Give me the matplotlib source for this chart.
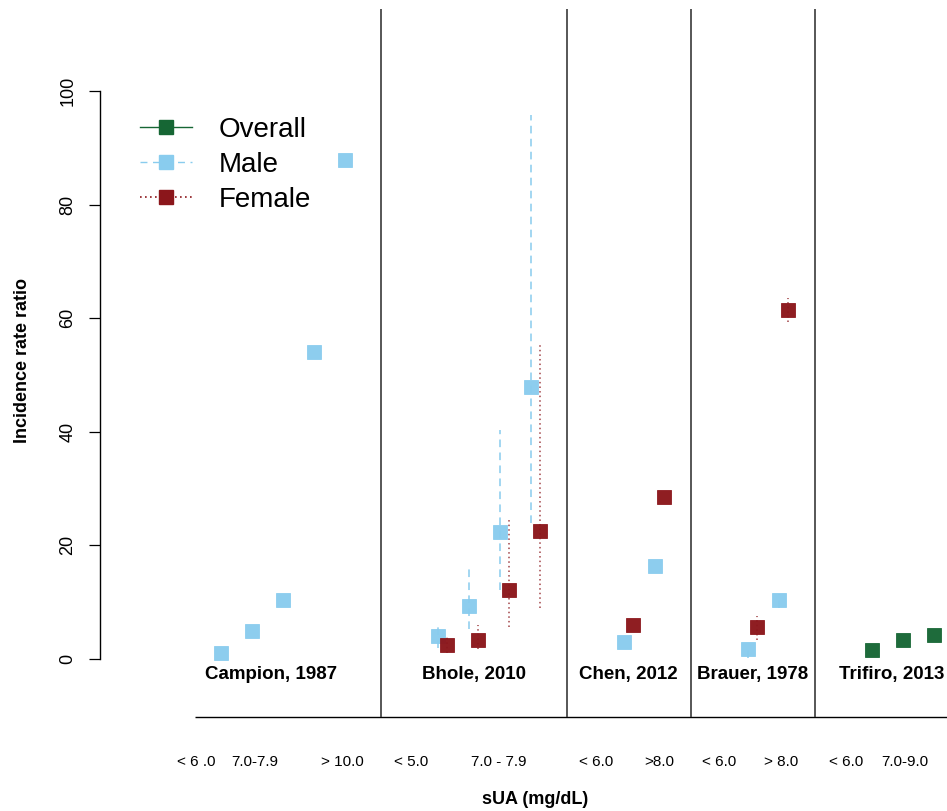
import matplotlib
matplotlib.use("Agg")
import matplotlib.pyplot as plt
from matplotlib.lines import Line2D

plt.rcParams['font.family'] = ['Liberation Sans', 'DejaVu Sans']

# colours
c_overall = '#166634'
c_male = '#89CCEE'
c_female = '#8B161B'

# study labels and where they sit
studies = ['Campion, 1987', 'Bhole, 2010', 'Chen, 2012', 'Brauer, 1978', 'Trifiro, 2013']
study_x = [2.63, 9.16, 14.15, 18.15, 22.63]
dividers = [6.16, 12.16, 16.16, 20.16]

# sUA category labels on the x axis
cat_labels = ['< 6 .0', '7.0-7.9', '> 10.0', '< 5.0', '7.0 - 7.9', '< 6.0', '>8.0',
              '< 6.0', '> 8.0', '< 6.0', '7.0-9.0']
cat_x = [0.19, 2.1, 4.92, 7.13, 9.97, 13.1, 15.15, 17.06, 19.06, 21.16, 23.06]

# Campion, 1987 (male only)
campion_x = [1, 2, 3, 4, 5]
campion_male = [1.1, 5.0, 10.4, 54.0, 87.9]

# Bhole, 2010
bhole_x = [8, 9, 10, 11]
bhole_male = [4.0, 9.3, 22.4, 47.9]
bhole_male_lo = [2.0, 5.3, 12.1, 23.9]
bhole_male_hi = [6.3, 16.0, 40.3, 95.8]
bhole_female = [2.4, 3.3, 12.1, 22.5]
bhole_female_lo = [1.0, 1.8, 5.7, 9.0]
bhole_female_hi = [3.9, 6.0, 24.8, 55.6]

# Chen, 2012
chen_x = [14, 15]
chen_male = [3.0, 16.4]
chen_female = [6.0, 28.6]

# Brauer, 1978
brauer_x = [18, 19]
brauer_male = [1.8, 10.4]
brauer_male_lo = [0.2, 9.0]
brauer_male_hi = [2.5, 11.5]
brauer_female = [5.7, 61.4]
brauer_female_lo = [3.3, 59.3]
brauer_female_hi = [7.6, 63.5]

# Trifiro, 2013 (overall)
trifiro_x = [22, 23, 24]
trifiro_overall = [1.5, 3.3, 4.3]

f_off = 0.29  # female points sit a little to the right
ms = 9.8

fig = plt.figure(figsize=(9.47, 8.11), dpi=100)
ax = fig.add_axes([100 / 947, 94 / 811, 847 / 947, 708 / 811])
xlo, xhi = -2.903, 24.419
ylo, yhi = -10.21, 114.44
ax.set_xlim(xlo, xhi)
ax.set_ylim(ylo, yhi)

for s in ['top', 'right', 'bottom']:
    ax.spines[s].set_visible(False)
ax.spines['left'].set_bounds(0, 100)
ax.spines['left'].set_linewidth(1.0)
ax.set_yticks([0, 20, 40, 60, 80, 100])
ax.tick_params(axis='y', length=7.9, width=0.9, pad=9, labelsize=13)
plt.setp(ax.get_yticklabels(), rotation=90, va='center', ha='right')

ax.set_xticks(cat_x)
ax.set_xticklabels(cat_labels, family=['Liberation Sans Narrow', 'Liberation Sans'])
ax.tick_params(axis='x', length=0, pad=27, labelsize=11)

ax.set_ylabel('Incidence rate ratio', fontsize=13, fontweight='bold')
ax.yaxis.set_label_coords(-0.081, 0.504)
ax.set_xlabel('sUA (mg/dL)', fontsize=13, fontweight='bold')
ax.xaxis.set_label_coords(0.5136, -0.104)
ax.xaxis.label.set_va('top')

# frame lines
ax.hlines(ylo + 0.05, 0.16, xhi, color='black', lw=1.0, clip_on=False)
ax.vlines(dividers, ylo, yhi, color='#3a3a3a', lw=1.2)

# error bars
ax.vlines(bhole_x, bhole_male_lo, bhole_male_hi, color=c_male, lw=1.1, linestyles=(0, (5, 3.5)))
ax.vlines(brauer_x, brauer_male_lo, brauer_male_hi, color=c_male, lw=1.1, linestyles=(0, (5, 3.5)))
ax.vlines([x + f_off for x in bhole_x], bhole_female_lo, bhole_female_hi,
          color=c_female, lw=1.1, linestyles=(0, (1, 2)), alpha=0.8)
ax.vlines([x + f_off for x in brauer_x], brauer_female_lo, brauer_female_hi,
          color=c_female, lw=1.1, linestyles=(0, (1, 2)), alpha=0.8)


def pts(xs, ys, col):
    ax.plot(xs, ys, ls='none', marker='s', ms=ms, color=col,
            markeredgecolor=col, markeredgewidth=0.6, alpha=0.97)


pts(campion_x, campion_male, c_male)
pts(bhole_x, bhole_male, c_male)
pts(chen_x, chen_male, c_male)
pts(brauer_x, brauer_male, c_male)
pts([x + f_off for x in bhole_x], bhole_female, c_female)
pts([x + f_off for x in chen_x], chen_female, c_female)
pts([x + f_off for x in brauer_x], brauer_female, c_female)
pts(trifiro_x, trifiro_overall, c_overall)

for name, x in zip(studies, study_x):
    ax.text(x, -2.8, name, ha='center', va='center', fontsize=13.5, fontweight='bold')

handles = [
    Line2D([], [], color=c_overall, ls='-', lw=1.0, marker='s', ms=ms),
    Line2D([], [], color=c_male, ls=(0, (5, 4)), lw=1.0, marker='s', ms=ms),
    Line2D([], [], color=c_female, ls=(0, (1, 2)), lw=1.2, marker='s', ms=ms),
]
ax.legend(handles, ['Overall', 'Male', 'Female'], loc='upper left',
          bbox_to_anchor=(140 / 947, 1 - 117 / 811), bbox_transform=fig.transFigure,
          frameon=False, fontsize=20, handlelength=1.87, handletextpad=0.97,
          labelspacing=0.32, borderpad=0, borderaxespad=0)

fig.savefig('out.png', dpi=100)
